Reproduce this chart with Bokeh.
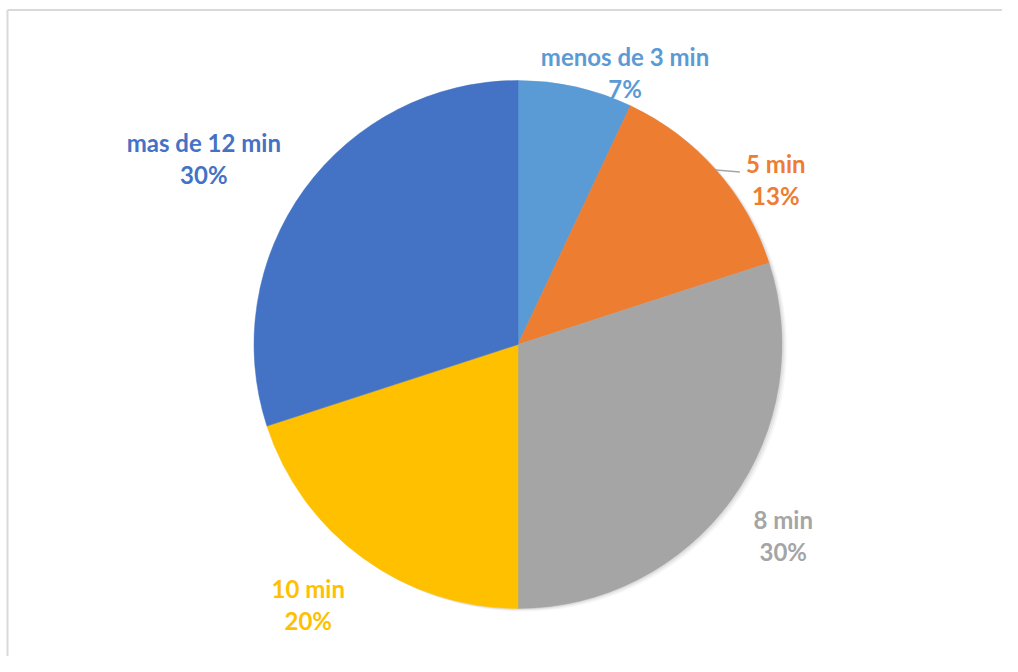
import math
from bokeh.plotting import figure
from bokeh.models import Range1d, ColumnDataSource
from bokeh.core.properties import value
from bokeh.embed import file_html
from bokeh.resources import INLINE

# data
categories = ["menos de 3 min", "5 min", "8 min", "10 min", "mas de 12 min"]
percents = [7, 13, 30, 20, 30]
colors = ["#5B9BD5", "#ED7D31", "#A5A5A5", "#FFC000", "#4472C4"]

# label placement (polar, degrees clockwise from top, distance in px)
label_angle = [21.5, 57.4, 125.8, 218.9, 300.6]
label_dist = [292, 306, 327, 334, 365]

W, H = 1002, 656
cx, cy, R = 517.5, H - 344, 264

p = figure(width=W, height=H, output_backend="svg", toolbar_location=None,
           x_range=Range1d(0, W), y_range=Range1d(0, H), min_border=0)
p.axis.visible = False
p.grid.visible = False
p.outline_line_color = None
p.background_fill_color = "white"

# frame border (top & left)
p.line([7, W], [H - 9.5, H - 9.5], line_color="#D9D9D9", line_width=2)
p.line([7, 7], [0, H - 9.5], line_color="#D9D9D9", line_width=2)

total = sum(percents)
starts, ends = [], []
acc = 0
for v in percents:
    starts.append(math.pi / 2 - 2 * math.pi * acc / total)
    acc += v
    ends.append(math.pi / 2 - 2 * math.pi * acc / total)

# soft shadow
for k, a in [(5, 0.03), (3.5, 0.04), (2, 0.06)]:
    p.circle(x=[cx + k], y=[cy - k * 0.6], radius=R, fill_color="#000000", fill_alpha=a, line_color=None)

src = ColumnDataSource(dict(start=starts, end=ends, color=colors))
p.wedge(x=cx, y=cy, radius=R, start_angle="start", end_angle="end", direction="clock",
        fill_color="color", line_color="color", line_width=0.5, source=src)

lx, ly = [], []
for a, d in zip(label_angle, label_dist):
    t = math.radians(a)
    lx.append(cx + d * math.sin(t))
    ly.append(cy + d * math.cos(t))

names_src = ColumnDataSource(dict(x=lx, y=[y + 16 for y in ly], text=categories, color=colors))
pct_src = ColumnDataSource(dict(x=lx, y=[y - 16 for y in ly], text=[f"{v}%" for v in percents], color=colors))
for s in (names_src, pct_src):
    p.text(x="x", y="y", text="text", text_color="color", source=s,
           text_font=value("Lato"), text_font_style="bold", text_font_size="24px",
           text_align="center", text_baseline="middle")

# leader line for the "5 min" label
i = 1
mid = (sum(percents[:i]) + percents[i] / 2) / total * 2 * math.pi
x0 = cx + R * math.sin(mid)
y0 = cy + R * math.cos(mid)
p.line([x0, lx[i] - 36], [y0, y0 - 2], line_color="#A6A6A6", line_width=1.5)

open("out.html", "w").write(file_html(p, INLINE))
